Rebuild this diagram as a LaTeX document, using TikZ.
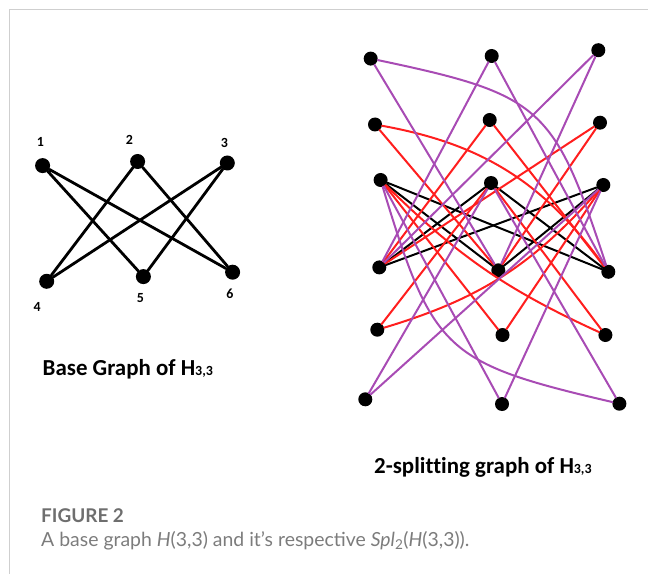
\documentclass[tikz,border=0pt]{standalone}
\usepackage{fontspec}
\setmainfont{Lato}
\newfontfamily\calibri[Ligatures=NoCommon]{Carlito}
\usetikzlibrary{positioning}
\definecolor{edgered}{HTML}{FF1E1E}
\definecolor{edgepur}{HTML}{A84BB4}
\definecolor{figgray}{HTML}{6E6E6E}
\definecolor{capgray}{HTML}{7C7C7C}
\definecolor{framegray}{HTML}{CFCFCF}

\begin{document}
\begin{tikzpicture}[
  x=1bp, y=-1bp,
  dot/.style={circle, fill=black, inner sep=0pt, minimum size=14bp},
  bigdot/.style={circle, fill=black, inner sep=0pt, minimum size=15bp},
  base/.style={line width=2.8bp, line cap=round, black},
  orig/.style={line width=2bp, line cap=round, black},
  copya/.style={line width=2bp, line cap=round, edgered},
  copyb/.style={line width=2bp, line cap=round, edgepur},
  num/.style={font=\calibri\bfseries\fontsize{14}{14}\selectfont},
  title/.style={anchor=west, inner sep=0pt, font=\calibri\bfseries\fontsize{23}{23}\selectfont},
]
\useasboundingbox (0,0) rectangle (648,574);

% frame of the figure panel
\draw[framegray, line width=1.5bp] (9.5,574) -- (9.5,9.5) -- (648,9.5);

% base graph
\node[bigdot] (b1) at (42.6,165.6) {};
\node[bigdot] (b2) at (137.6,161.5) {};
\node[bigdot] (b3) at (227.3,163) {};
\node[bigdot] (b4) at (46.7,281.3) {};
\node[bigdot] (b5) at (143.4,276.6) {};
\node[bigdot] (b6) at (232.6,272.2) {};

\node[num] (l1) at (40.5,141.8) {1};
\node[num] (l2) at (129.3,140.3) {2};
\node[num] (l3) at (224.4,142.9) {3};
\node[num] (l4) at (37.2,307) {4};
\node[num] (l5) at (140.5,298.5) {5};
\node[num] (l6) at (229.8,294) {6};

\draw[base] (b1) -- (b5) (b1) -- (b6);
\draw[base] (b2) -- (b4) (b2) -- (b6);
\draw[base] (b3) -- (b4) (b3) -- (b5);

% 2-splitting graph: o = original, s = first copy, t = second copy
\node[dot] (t1) at (370.7,58.6) {};
\node[dot] (t2) at (491.7,56) {};
\node[dot] (t3) at (598.3,50.2) {};
\node[dot] (s1) at (375,124.5) {};
\node[dot] (s2) at (489.7,120) {};
\node[dot] (s3) at (600,122.7) {};
\node[dot] (o1) at (380.6,180) {};
\node[dot] (o2) at (491,183) {};
\node[dot] (o3) at (603.3,185) {};
\node[dot] (o4) at (379.3,267.4) {};
\node[dot] (o5) at (498.3,270.3) {};
\node[dot] (o6) at (608.3,271.8) {};
\node[dot] (s4) at (377.3,329.7) {};
\node[dot] (s5) at (502.5,335) {};
\node[dot] (s6) at (605.4,335) {};
\node[dot] (t4) at (365.3,399.3) {};
\node[dot] (t5) at (502,404) {};
\node[dot] (t6) at (619.4,403.7) {};

\draw[orig] (o1) -- (o5) (o1) -- (o6);
\draw[orig] (o2) -- (o4) (o2) -- (o6);
\draw[orig] (o3) -- (o4) (o3) -- (o5);

\draw[copya] (s1) -- (o5) (s1) to[bend left=22] (o6);
\draw[copya] (s2) -- (o4) (s2) -- (o6);
\draw[copya] (s3) -- (o4) (s3) -- (o5);
\draw[copya] (s4) -- (o2) (s4) to[bend right=16] (o3);
\draw[copya] (s5) -- (o1) (s5) -- (o3);
\draw[copya] (s6) to[bend left=10] (o1) (s6) -- (o2);

\draw[copyb] (t1) -- (o5) (t1) to[bend left=30, looseness=1.4] (o6);
\draw[copyb] (t2) -- (o4) (t2) -- (o6);
\draw[copyb] (t3) -- (o4) (t3) -- (o5);
\draw[copyb] (t4) -- (o2) (t4) -- (o3);
\draw[copyb] (t5) -- (o1) (t5) -- (o3);
\draw[copyb] (t6) to[bend left=30, looseness=1.4] (o1) (t6) -- (o2);

% titles and caption
\node[title] (basettl) at (42.5,369) {Base Graph of H{\fontsize{14}{14}\selectfont 3,3}};
\node[title] (splitttl) at (374,467) {2-splitting graph of H{\fontsize{14}{14}\selectfont 3,3}};
\node[anchor=west, inner sep=0pt, text=figgray, font=\bfseries\fontsize{19}{19}\selectfont] (fig) at (41,516) {FIGURE 2};
\node[anchor=west, inner sep=0pt, text=capgray, font=\fontsize{19.5}{19.5}\selectfont] (cap) at (41,541) {A base graph \textit{H}(3,3) and it’s respective \textit{Spl}\textsubscript{2}(\textit{H}(3,3)).};

\end{tikzpicture}
\end{document}
